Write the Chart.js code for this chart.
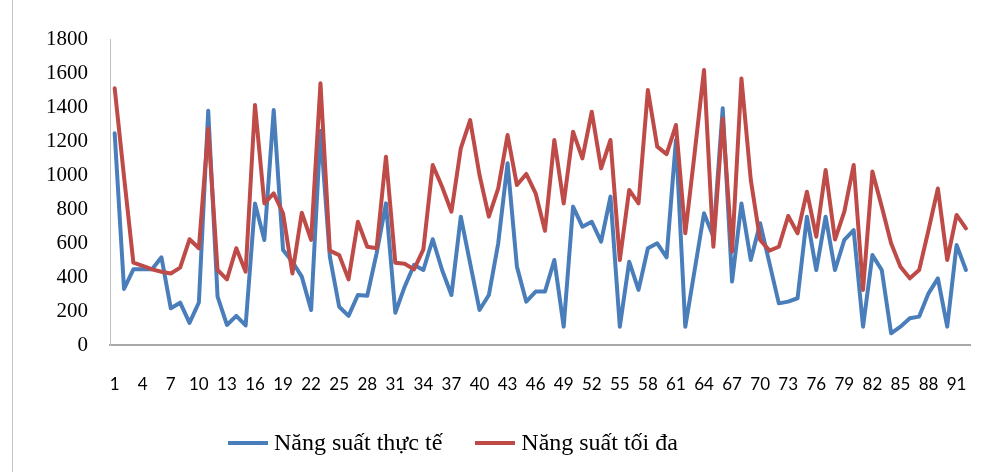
<!DOCTYPE html>
<html lang="vi">
<head>
<meta charset="utf-8">
<title>Năng suất</title>
<script src="https://cdn.jsdelivr.net/npm/chart.js@4.4.1/dist/chart.umd.min.js"></script>
<style>
  html, body { margin: 0; padding: 0; background: #fff; }
  #wrap { position: relative; width: 995px; height: 472px; overflow: hidden; }
  #frame { position: absolute; left: 12px; top: -2px; width: 1000px; height: 480px; border-left: 1px solid #c4c4c4; }
  #chart { position: absolute; left: 0; top: 0; }
  #legend { position: absolute; left: 228px; top: 429px; display: flex; align-items: center;
            font-family: "Liberation Serif", "Times New Roman", serif; font-size: 24px; color: #000; }
  .item { display: flex; align-items: center; margin-right: 33px; }
  .swatch { width: 40px; height: 4px; margin-right: 6px; }
</style>
</head>
<body>
<div id="wrap">
  <div id="frame"></div>
  <canvas id="chart" width="995" height="472"></canvas>
  <div id="legend"></div>
</div>
<script>
  // Ngày 1..92
  const days = [
    "1","2","3","4","5","6","7","8","9","10","11","12","13","14","15","16","17","18","19","20",
    "21","22","23","24","25","26","27","28","29","30","31","32","33","34","35","36","37","38","39","40",
    "41","42","43","44","45","46","47","48","49","50","51","52","53","54","55","56","57","58","59","60",
    "61","62","63","64","65","66","67","68","69","70","71","72","73","74","75","76","77","78","79","80",
    "81","82","83","84","85","86","87","88","89","90","91","92"
  ];

  // Nhãn trục hoành được hiển thị (mỗi 3 ngày)
  const xTickLabels = ["1","4","7","10","13","16","19","22","25","28","31","34","37","40","43","46",
    "49","52","55","58","61","64","67","70","73","76","79","82","85","88","91"];

  const yTicks = [0, 200, 400, 600, 800, 1000, 1200, 1400, 1600, 1800];

  const thucTe = [
    1245, 330, 445, 445, 445, 516, 216, 249, 130, 250,
    1378, 284, 118, 171, 115, 833, 618, 1382, 559, 490,
    402, 206, 1260, 520, 225, 171, 294, 290, 539, 833,
    190, 343, 471, 441, 622, 441, 294, 755, 480, 206,
    294, 598, 1069, 461, 255, 314, 314, 500, 108, 814,
    696, 725, 608, 873, 108, 490, 324, 569, 598, 516,
    1206, 108, 441, 775, 637, 1392, 373, 833, 500, 716,
    480, 245, 255, 275, 755, 441, 755, 441, 618, 676,
    108, 529, 441, 69, 108, 157, 167, 304, 392, 108,
    588, 441
  ];

  const toiDa = [
    1510, 990, 484, 465, 445, 431, 421, 455, 622, 569,
    1274, 441, 386, 569, 431, 1412, 833, 892, 775, 421,
    778, 618, 1539, 555, 529, 386, 725, 578, 569, 1108,
    484, 478, 445, 563, 1059, 931, 784, 1157, 1323, 1000,
    755, 921, 1235, 941, 1006, 892, 672, 1206, 833, 1255,
    1098, 1372, 1039, 1206, 500, 912, 833, 1500, 1167, 1123,
    1294, 657, 1130, 1618, 578, 1333, 549, 1568, 971, 618,
    555, 578, 759, 657, 902, 637, 1029, 620, 784, 1059,
    324, 1020, 814, 598, 461, 392, 441, 676, 921, 500,
    765, 686
  ];

  const series = [
    { label: "Năng suất thực tế", data: thucTe, color: "#4a7ebb", order: 1 },
    { label: "Năng suất tối đa", data: toiDa, color: "#be4b48", order: 0 }
  ];

  const ctx = document.getElementById("chart").getContext("2d");

  new Chart(ctx, {
    type: "line",
    data: {
      labels: days,
      datasets: series.map((s) => ({
        label: s.label,
        data: s.data,
        borderColor: s.color,
        backgroundColor: s.color,
        borderWidth: 4,
        borderJoinStyle: "round",
        borderCapStyle: "round",
        pointRadius: 0,
        tension: 0,
        fill: false,
        order: s.order,
      })),
    },
    options: {
      responsive: false,
      animation: false,
      layout: { padding: { top: 39, right: 11, bottom: 67, left: 0 } },
      plugins: {
        legend: { display: false },
        tooltip: { enabled: false },
      },
      scales: {
        x: {
          offset: true,
          grid: { display: false, drawTicks: false },
          border: { display: true, color: "#a8a8a8", width: 2 },
          ticks: {
            autoSkip: false,
            maxRotation: 0,
            padding: 29,
            color: "#000",
            font: { family: "Lato", size: 17 },
            callback: function (value) {
              const lbl = this.getLabelForValue(value);
              return xTickLabels.includes(lbl) ? lbl : "";
            },
          },
          afterFit: (scale) => { scale.height = 60; },
        },
        y: {
          min: yTicks[0],
          max: yTicks[yTicks.length - 1],
          afterBuildTicks: (scale) => { scale.ticks = yTicks.map((v) => ({ value: v })); },
          grid: { display: false, drawTicks: false },
          border: { display: true, color: "#c0c0c0", width: 1 },
          ticks: {
            padding: 22,
            color: "#000",
            font: { family: "Liberation Serif", size: 21 },
            callback: (v) => String(v),
          },
          afterFit: (scale) => { scale.width = 110; },
        },
      },
    },
  });

  // Chú thích
  const legendEl = document.getElementById("legend");
  series.forEach((s) => {
    const item = document.createElement("div");
    item.className = "item";
    const sw = document.createElement("span");
    sw.className = "swatch";
    sw.style.background = s.color;
    const txt = document.createElement("span");
    txt.textContent = s.label;
    item.appendChild(sw);
    item.appendChild(txt);
    legendEl.appendChild(item);
  });
</script>
</body>
</html>
